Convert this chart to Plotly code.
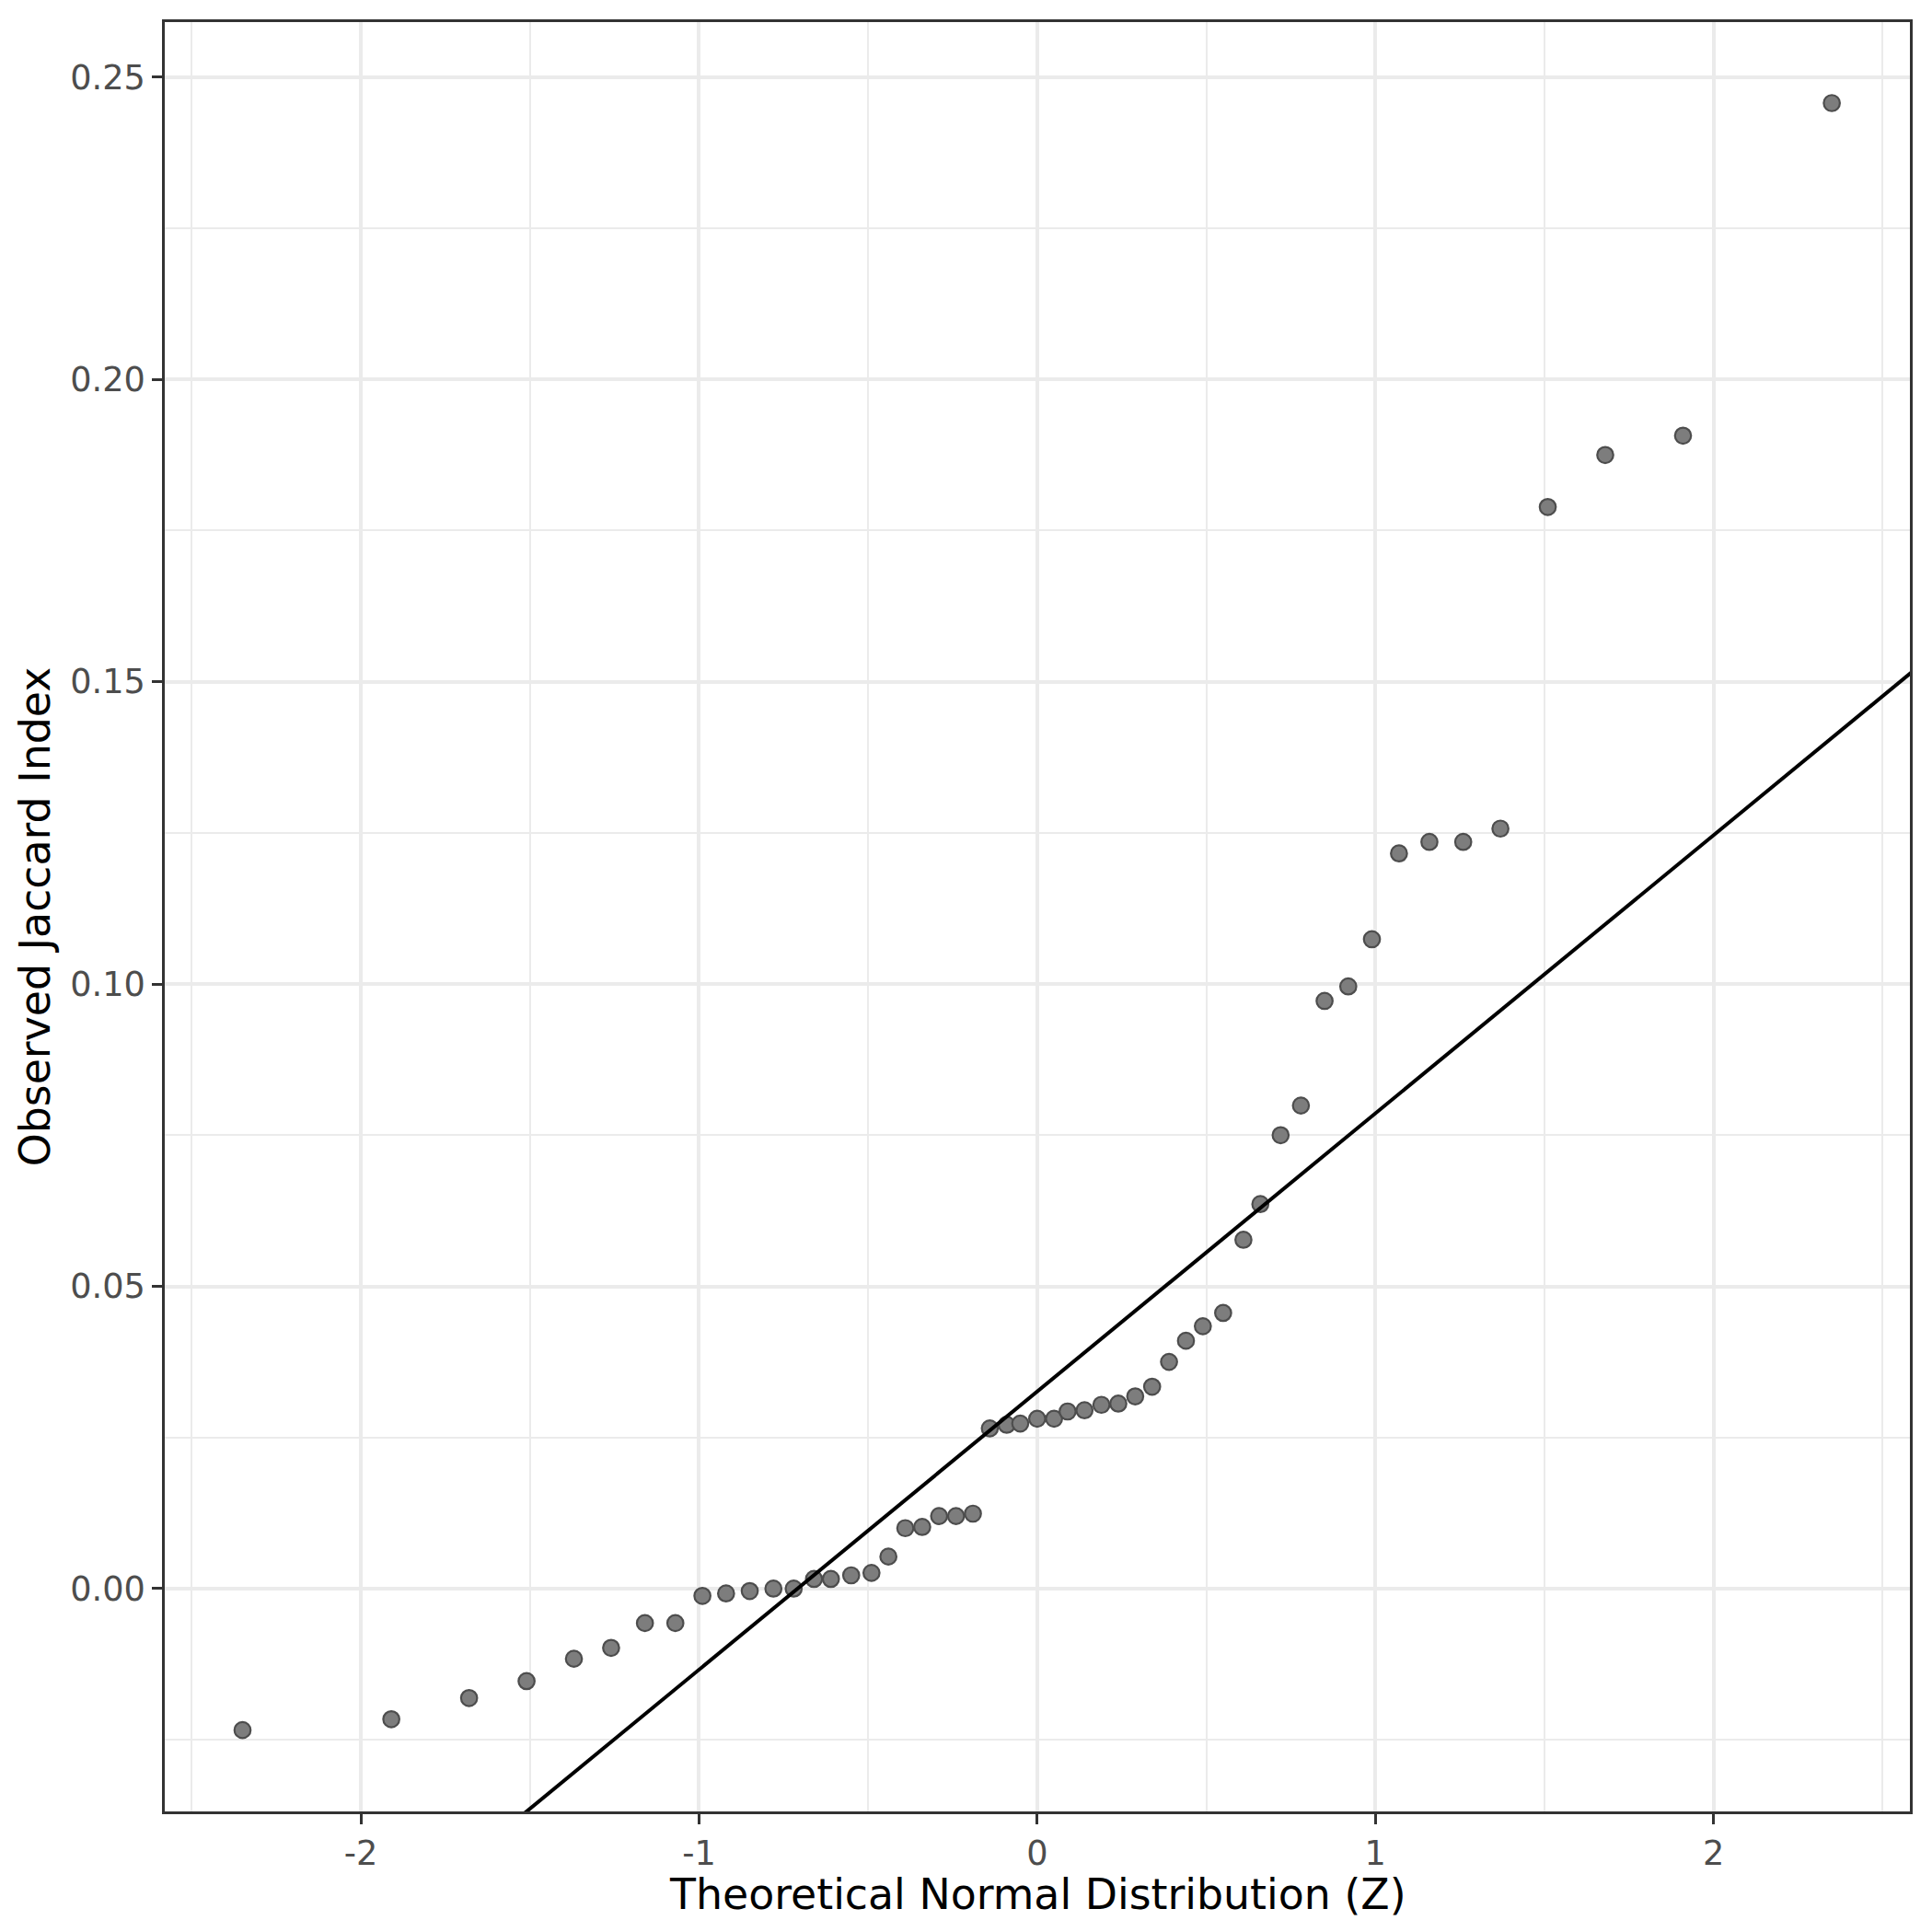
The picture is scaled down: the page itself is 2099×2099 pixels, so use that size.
import plotly.graph_objects as go

# Theoretical normal quantiles (x) and observed Jaccard index (y)
theoretical_z = [
    -2.35, -1.91, -1.68, -1.51, -1.37, -1.26, -1.16, -1.07, -0.99, -0.92,
    -0.85, -0.78, -0.72, -0.66, -0.61, -0.55, -0.49, -0.44, -0.39, -0.34,
    -0.29, -0.24, -0.19, -0.14, -0.09, -0.05, 0.00, 0.05, 0.09, 0.14,
    0.19, 0.24, 0.29, 0.34, 0.39, 0.44, 0.49, 0.55, 0.61, 0.66,
    0.72, 0.78, 0.85, 0.92, 0.99, 1.07, 1.16, 1.26, 1.37, 1.51,
    1.68, 1.91, 2.35,
]
observed_jaccard = [
    -0.0234, -0.0216, -0.0181, -0.0153, -0.0116, -0.0098, -0.0057, -0.0057, -0.0012, -0.0008,
    -0.0004, 0.0000, 0.0000, 0.0016, 0.0016, 0.0022, 0.0026, 0.0053, 0.0100, 0.0102,
    0.0120, 0.0120, 0.0124, 0.0265, 0.0271, 0.0273, 0.0281, 0.0281, 0.0293, 0.0295,
    0.0304, 0.0306, 0.0318, 0.0334, 0.0375, 0.0410, 0.0434, 0.0456, 0.0577, 0.0636,
    0.0750, 0.0799, 0.0972, 0.0996, 0.1074, 0.1216, 0.1235, 0.1235, 0.1257, 0.1789,
    0.1875, 0.1907, 0.2457,
]

# Reference line (qq line)
line_intercept = 0.0326
line_slope = 0.0460

x_range = [-2.580, 2.581]
y_range = [-0.03685, 0.2591]

x_ticks = [-2, -1, 0, 1, 2]
x_tick_labels = ["-2", "-1", "0", "1", "2"]
y_ticks = [0.00, 0.05, 0.10, 0.15, 0.20, 0.25]
y_tick_labels = ["0.00", "0.05", "0.10", "0.15", "0.20", "0.25"]

x_title = "Theoretical Normal Distribution (Z)"
y_title = "Observed Jaccard Index"

FONT = "DejaVu Sans"

fig = go.Figure()

fig.add_trace(go.Scatter(
    x=theoretical_z, y=observed_jaccard, mode="markers",
    marker=dict(size=17.5, color="#7d7d7d", line=dict(color="#4d4d4d", width=2.2)),
    showlegend=False,
))

line_x = [x_range[0] - 0.1, x_range[1] + 0.1]
line_y = [line_intercept + line_slope * v for v in line_x]
fig.add_trace(go.Scatter(
    x=line_x, y=line_y, mode="lines",
    line=dict(color="black", width=4),
    showlegend=False,
))

axis_common = dict(
    showline=True, mirror=True, linecolor="#333333", linewidth=2.5,
    ticks="outside", ticklen=11, tickwidth=2.8, tickcolor="#333333",
    showgrid=True, gridcolor="#EBEBEB", gridwidth=3.8,
    zeroline=False,
    tickfont=dict(family=FONT, size=36.7, color="#4D4D4D"),
)

fig.update_layout(
    width=2091, height=2091,
    margin=dict(l=171, r=24, t=16, b=131),
    paper_bgcolor="white", plot_bgcolor="white",
    font=dict(family=FONT),
    xaxis=dict(
        range=x_range, tickvals=x_ticks, ticktext=x_tick_labels,
        minor=dict(dtick=0.5, tick0=-2.5, showgrid=True, gridcolor="#EBEBEB", gridwidth=2, ticks=""),
        **axis_common,
    ),
    yaxis=dict(
        range=y_range, tickvals=y_ticks, ticktext=y_tick_labels,
        minor=dict(dtick=0.025, tick0=-0.025, showgrid=True, gridcolor="#EBEBEB", gridwidth=2, ticks=""),
        title=dict(text=y_title,
                   font=dict(family=FONT, size=45.8, color="black"), standoff=8),
        **axis_common,
    ),
    annotations=[dict(
        text=x_title, xref="paper", yref="paper", x=0.5, y=0,
        xanchor="center", yanchor="top", yshift=-62, showarrow=False,
        borderpad=0,
        font=dict(family=FONT, size=45.8, color="black"),
    )],
)

fig.write_html("out.html")
